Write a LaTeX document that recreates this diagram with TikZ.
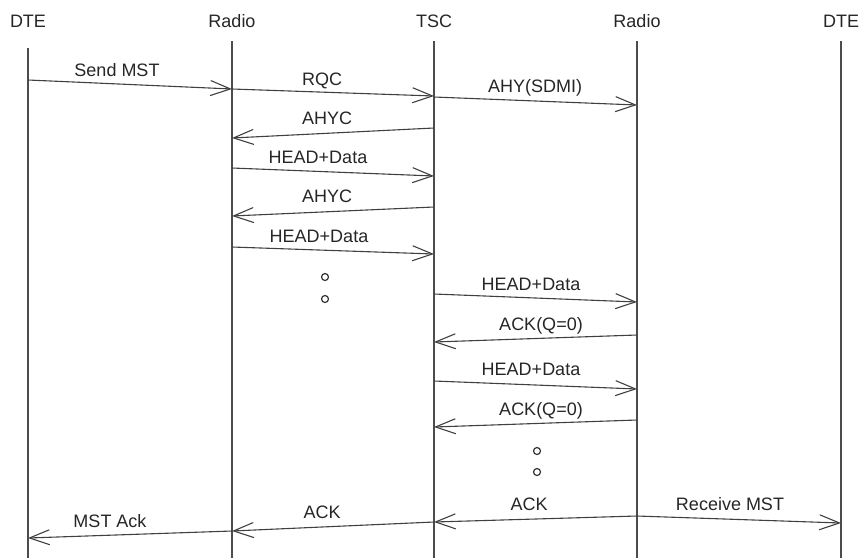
\documentclass[tikz,border=0pt]{standalone}
\usepackage{fontspec}
\setmainfont{Liberation Sans}
\usetikzlibrary{arrows.meta}

\begin{document}
\begin{tikzpicture}[x=1pt, y=-1pt,
    life/.style={draw=black!70, line width=1.5pt},
    msg/.style={draw=black!75, line width=1.1pt, -{Straight Barb[length=20pt,width=15pt,line width=1.1pt]}},
    lbl/.style={font=\fontsize{18}{20}\selectfont, text=black!85, inner sep=0pt, anchor=base},
    dot/.style={circle, draw=black!80, line width=1.2pt, minimum size=7pt, inner sep=0pt}]
    \useasboundingbox (0,0) rectangle (861,558);

    % Lifelines and their headers
    \foreach \name/\x/\top/\label in {dteA/28/48/DTE, radA/232/41/Radio, tsc/434/41/TSC, radB/637/41/Radio, dteB/841/41/DTE} {
        \node[lbl] (\name) at (\x,27) {\label};
        \coordinate (\name-top) at (\x,\top);
        \coordinate (\name-bot) at (\x,558);
        \draw[life] (\name-top) -- (\name-bot);
    }

    % Messages: from / y start / to / y end / text / text position
    \foreach \i/\from/\ya/\to/\yb/\txt/\lx/\ly in {
        1/dteA/80/radA/89/Send MST/117/76.5,
        2/radA/89/tsc/96/RQC/322/85.5,
        3/tsc/97/radB/105/AHY(SDMI)/535/92.5,
        4/tsc/128/radA/138/AHYC/327/124.5,
        5/radA/168/tsc/176/HEAD+Data/318/163.5,
        6/tsc/207/radA/216/AHYC/327/202.5,
        7/radA/247/tsc/254/HEAD+Data/319/242.5,
        8/tsc/294/radB/302/HEAD+Data/531/290.5,
        9/radB/335/tsc/342/ACK(Q=0)/541/330.5,
        10/tsc/381/radB/389/HEAD+Data/531/375.5,
        11/radB/420/tsc/427/ACK(Q=0)/541/415.5,
        12/radB/516/dteB/523/Receive MST/730/510.5,
        13/radB/516/tsc/522/ACK/529/510.5,
        14/tsc/522/radA/531/ACK/322/518.5,
        15/radA/531/dteA/538/MST Ack/110/527.5} {
        \coordinate (m\i-a) at (\from-top |- 0,\ya);
        \coordinate (m\i-b) at (\to-top |- 0,\yb);
        \draw[msg] (m\i-a) -- (m\i-b);
        \node[lbl] (m\i-txt) at (\lx,\ly) {\txt};
    }

    % Omitted exchanges
    \node[dot] (gapA1) at (325,277) {};
    \node[dot] (gapA2) at (325,299) {};
    \node[dot] (gapB1) at (537,451) {};
    \node[dot] (gapB2) at (537,472) {};

\end{tikzpicture}
\end{document}
